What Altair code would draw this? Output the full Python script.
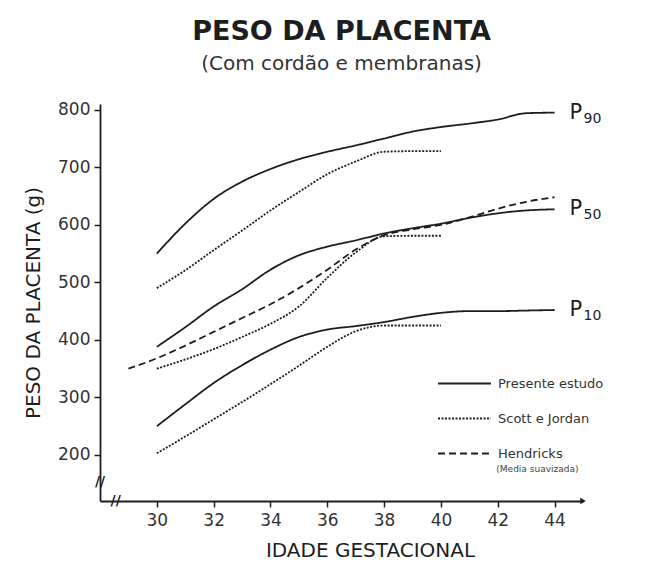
import altair as alt
import pandas as pd

# ---- data ----
weeks_present = [30, 31, 32, 33, 34, 35, 36, 37, 38, 39, 40, 41, 42, 43, 44]
p90_present = [550, 602, 645, 675, 697, 714, 727, 738, 750, 762, 770, 776, 783, 794, 795]
p50_present = [388, 422, 458, 488, 522, 547, 562, 573, 585, 594, 602, 612, 620, 625, 627]
p10_present = [250, 288, 325, 356, 383, 405, 418, 424, 431, 440, 447, 450, 450, 451, 452]

weeks_scott = [30, 31, 32, 33, 34, 35, 36, 37, 38, 39, 40]
p90_scott = [490, 521, 556, 590, 625, 657, 688, 710, 727, 728, 728]
p50_scott = [350, 366, 384, 405, 428, 458, 508, 552, 580, 581, 581]
p10_scott = [203, 232, 262, 292, 323, 355, 388, 415, 425, 425, 425]

weeks_hendricks = [29, 30, 31, 32, 33, 34, 35, 36, 37, 38, 39, 40, 41, 42, 43, 44]
mean_hendricks = [350, 368, 390, 414, 438, 462, 490, 522, 557, 582, 592, 600, 613, 628, 640, 648]

studies = ["Presente estudo", "Scott e Jordan", "Hendricks"]
percentile_names = ["90", "50", "10"]
x_ticks = list(range(30, 45))
y_ticks = list(range(200, 801, 50))

# ---- build long table ----
rows = []
for pct, vals in zip(percentile_names, [p90_present, p50_present, p10_present]):
    for w, v in zip(weeks_present, vals):
        rows.append({"semana": w, "peso": v, "estudo": studies[0], "serie": "pres" + pct})
for pct, vals in zip(percentile_names, [p90_scott, p50_scott, p10_scott]):
    for w, v in zip(weeks_scott, vals):
        rows.append({"semana": w, "peso": v, "estudo": studies[1], "serie": "scott" + pct})
for w, v in zip(weeks_hendricks, mean_hendricks):
    rows.append({"semana": w, "peso": v, "estudo": studies[2], "serie": "hend"})
df = pd.DataFrame(rows)

labels = pd.DataFrame({
    "semana": [weeks_present[-1]] * 3,
    "peso": [p90_present[-1], p50_present[-1], p10_present[-1]],
    "p": ["P"] * 3,
    "sub": percentile_names,
})

INK = "#1e1e1e"
FONT = "DejaVu Sans"

xs = alt.Scale(domain=[28, 45], nice=False, zero=False)
ys = alt.Scale(domain=[120, 810], nice=False, zero=False)

lines = alt.Chart(df).mark_line(interpolate="monotone", strokeWidth=1.8, color=INK).encode(
    x=alt.X("semana:Q", scale=xs,
            axis=alt.Axis(values=x_ticks, title="IDADE GESTACIONAL",
                          labelExpr="datum.value % 2 == 0 ? datum.label : ''",
                          titleX=270, titleY=39, titleBaseline="top")),
    y=alt.Y("peso:Q", scale=ys,
            axis=alt.Axis(values=y_ticks, title="PESO DA PLACENTA (g)",
                          labelExpr="datum.value % 100 == 0 ? datum.label : ''",
                          titleX=-57)),
    detail="serie:N",
    strokeDash=alt.StrokeDash(
        "estudo:N",
        scale=alt.Scale(domain=studies, range=[[1, 0], [2, 1.5], [7, 4]]),
        legend=alt.Legend(title=None, orient="none", legendX=337, legendY=252,
                          symbolType="stroke", symbolSize=2800, symbolStrokeWidth=1.8,
                          symbolStrokeColor=INK, labelFont=FONT, labelFontSize=13,
                          labelColor="#333", rowPadding=0, labelOffset=6),
    ),
)

p_text = alt.Chart(labels).mark_text(align="left", baseline="middle", dx=15, fontSize=21,
                                     font=FONT, color=INK).encode(
    x=alt.X("semana:Q", scale=xs), y=alt.Y("peso:Q", scale=ys), text="p:N")
sub_text = alt.Chart(labels).mark_text(align="left", baseline="middle", dx=29, dy=6, fontSize=14,
                                       font=FONT, color=INK).encode(
    x=alt.X("semana:Q", scale=xs), y=alt.Y("peso:Q", scale=ys), text="sub:N")

note = pd.DataFrame({"semana": [41.95], "peso": [176], "t": ["(Media suavizada)"]})
note_text = alt.Chart(note).mark_text(align="left", baseline="middle", fontSize=9,
                                      font=FONT, color="#444").encode(
    x=alt.X("semana:Q", scale=xs), y=alt.Y("peso:Q", scale=ys), text="t:N")

breaks = pd.DataFrame({"semana": [28.0, 28.55], "peso": [153, 120], "t": ["//", "//"]})
break_text = alt.Chart(breaks).mark_text(fontSize=14, font=FONT, color=INK, fontWeight="bold").encode(
    x=alt.X("semana:Q", scale=xs), y=alt.Y("peso:Q", scale=ys), text="t:N")

arrow = pd.DataFrame({"semana": [45], "peso": [120]})
arrow_mark = alt.Chart(arrow).mark_point(shape="triangle-right", filled=True, size=40,
                                         color=INK, opacity=1).encode(
    x=alt.X("semana:Q", scale=xs), y=alt.Y("peso:Q", scale=ys))

chart = alt.layer(lines, p_text, sub_text, note_text, break_text, arrow_mark).properties(
    width=483, height=397,
    autosize=alt.AutoSizeParams(type="none"),
    padding={"left": 92, "top": 96, "right": 55, "bottom": 62},
    title=alt.TitleParams(text="PESO DA PLACENTA", subtitle="(Com cordão e membranas)",
                          font=FONT, fontSize=27, fontWeight="bold", color=INK,
                          subtitleFont=FONT, subtitleFontSize=20, subtitleColor="#333",
                          subtitlePadding=8, offset=26, anchor="middle"),
).configure_view(stroke=None).configure_axis(
    grid=False, domainColor=INK, domainWidth=1.8, tickColor=INK, tickWidth=1.5,
    tickSize=6, labelFont=FONT, labelFontSize=17, labelColor="#333",
    titleFont=FONT, titleFontSize=20, titleFontWeight="normal", titleColor=INK,
).configure_axisX(labelPadding=5).configure_axisY(labelPadding=4)

chart.save("out.html", embed_options={"renderer": "svg", "actions": False})
